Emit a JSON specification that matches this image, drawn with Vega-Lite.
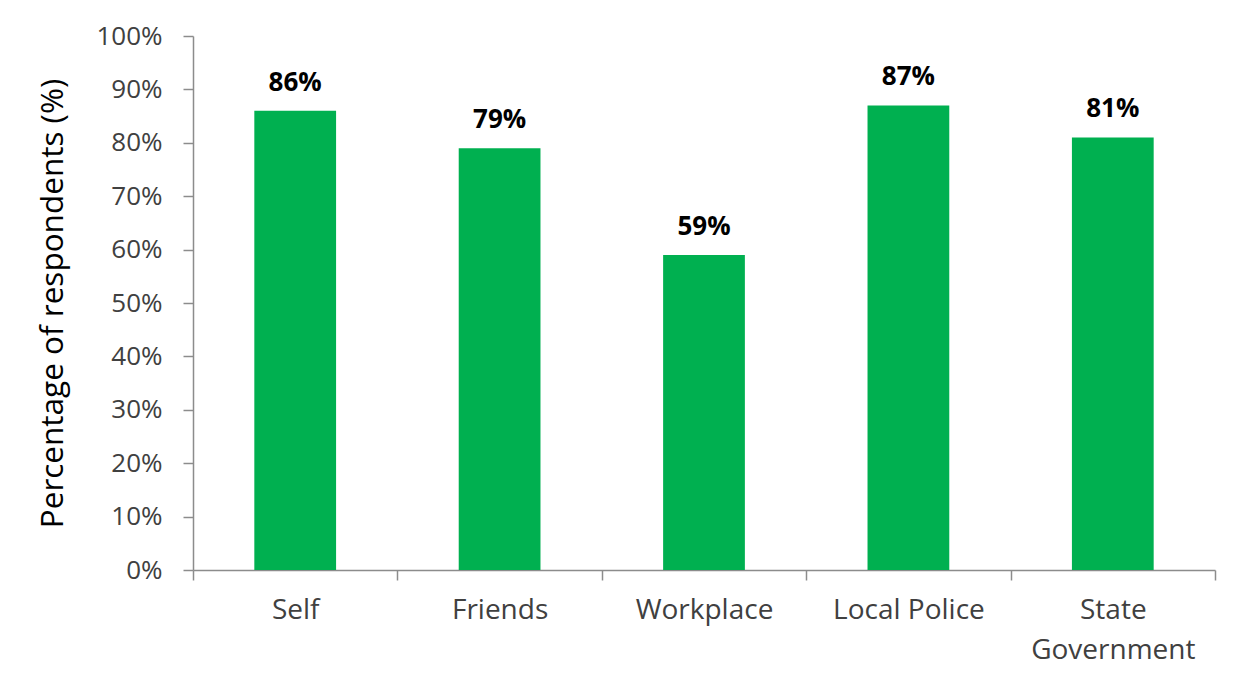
{
  "$schema": "https://vega.github.io/schema/vega-lite/v6.json",
  "autosize": "none",
  "width": 1022,
  "height": 534,
  "padding": {"left": 193, "top": 36, "right": 25, "bottom": 112},
  "background": "white",
  "config": {
    "view": {"stroke": null},
    "font": "Open Sans"
  },
  "data": {
    "values": [
      {"source": "Self", "share": 0.86},
      {"source": "Friends", "share": 0.79},
      {"source": "Workplace", "share": 0.59},
      {"source": "Local Police", "share": 0.87},
      {"source": "State Government", "share": 0.81}
    ]
  },
  "encoding": {
    "x": {
      "field": "source",
      "type": "nominal",
      "sort": null,
      "scale": {"paddingInner": 0, "paddingOuter": 0},
      "axis": {
        "title": null,
        "labelAngle": 0,
        "labelFont": "Open Sans",
        "labelFontSize": 28,
        "labelColor": "#404040",
        "labelPadding": 16,
        "labelLineHeight": 40,
        "labelExpr": "datum.label == 'State Government' ? ['State', 'Government'] : datum.label",
        "tickBand": "extent",
        "tickSize": 10,
        "tickColor": "#8c8c8c",
        "tickWidth": 1.5,
        "domainColor": "#8c8c8c",
        "domainWidth": 1.5
      }
    },
    "y": {
      "field": "share",
      "type": "quantitative",
      "scale": {"domain": [0, 1], "nice": false},
      "axis": {
        "title": "Percentage of respondents (%)",
        "titleFont": "Open Sans",
        "titleFontSize": 31.5,
        "titleFontWeight": "normal",
        "titleColor": "#000000",
        "titlePadding": 26,
        "values": [0, 0.1, 0.2, 0.3, 0.4, 0.5, 0.6, 0.7, 0.8, 0.9, 1],
        "format": ".0%",
        "labelFont": "Open Sans",
        "labelFontSize": 26,
        "labelColor": "#404040",
        "labelPadding": 21,
        "grid": false,
        "tickSize": 10,
        "tickColor": "#8c8c8c",
        "tickWidth": 1.5,
        "domainColor": "#8c8c8c",
        "domainWidth": 1.5
      }
    }
  },
  "layer": [
    {
      "mark": {"type": "bar", "color": "#00B050", "width": {"band": 0.4}}
    },
    {
      "mark": {"type": "text", "baseline": "alphabetic", "dy": -20, "fontSize": 26, "fontWeight": "bold", "color": "#000000"},
      "encoding": {
        "text": {"field": "share", "type": "quantitative", "format": ".0%"}
      }
    }
  ]
}
